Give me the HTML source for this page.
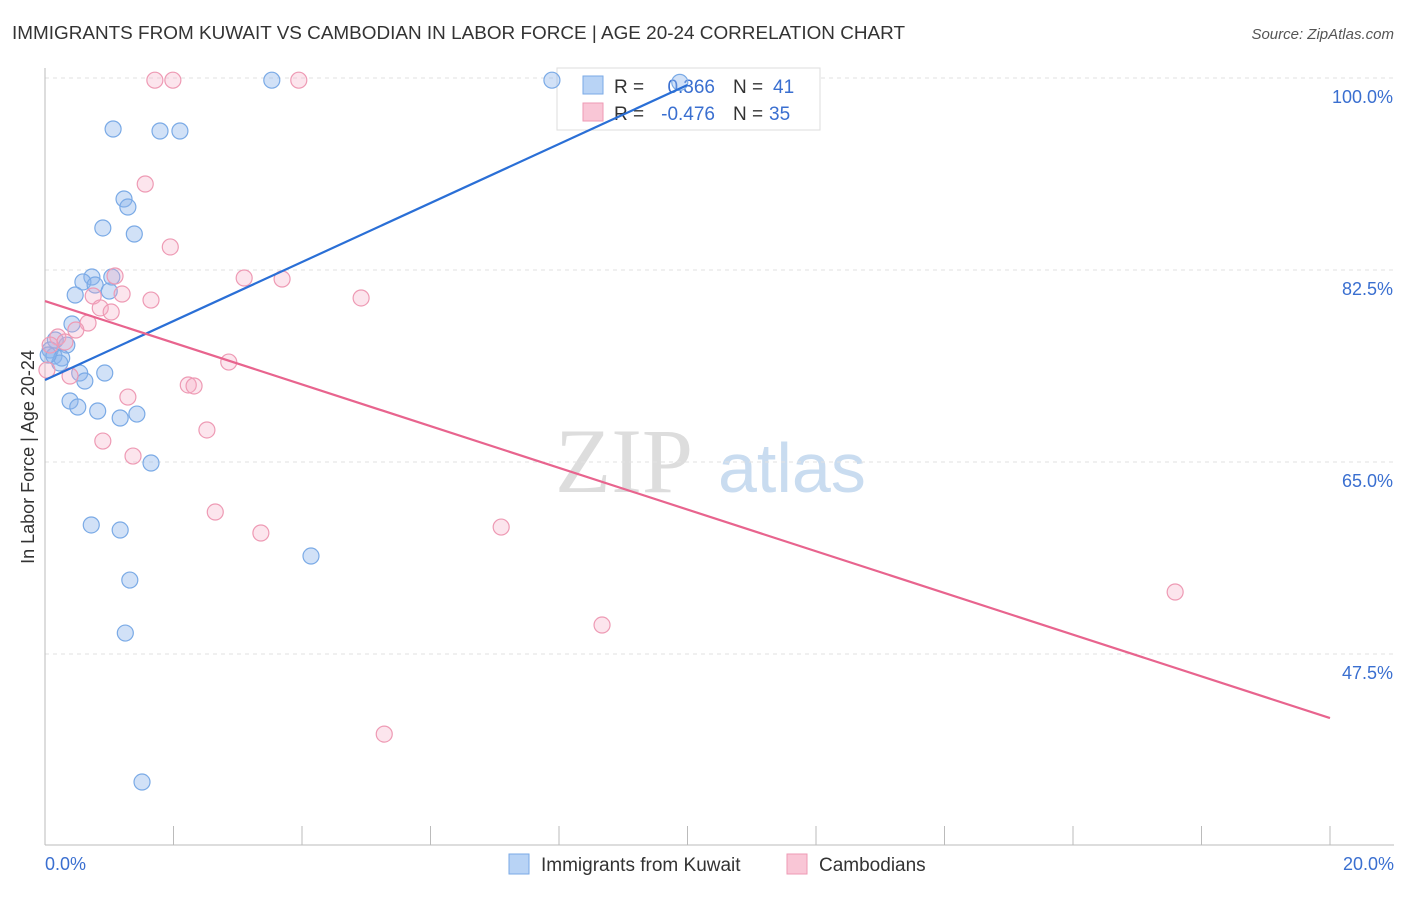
<!DOCTYPE html>
<html><head><meta charset="utf-8"><style>
body{margin:0;background:#fff;font-family:"Liberation Sans",sans-serif;}
</style></head><body>
<svg id="chart" width="1406" height="892" xmlns="http://www.w3.org/2000/svg" style="font-family:'Liberation Sans',sans-serif">
<text x="12" y="39" font-size="18" fill="#333" textLength="893" lengthAdjust="spacingAndGlyphs">IMMIGRANTS FROM KUWAIT VS CAMBODIAN IN LABOR FORCE | AGE 20-24 CORRELATION CHART</text>
<text x="1394" y="39" font-size="15" fill="#555" text-anchor="end" font-style="italic">Source: ZipAtlas.com</text>
<text x="555" y="492" font-size="92" fill="#ddd" font-family="Liberation Serif,serif">ZIP</text>
<text x="718" y="492" font-size="70" fill="#c9dcf0">atlas</text>
<text transform="translate(34,457) rotate(-90)" font-size="18" fill="#333" text-anchor="middle">In Labor Force | Age 20-24</text>
<g id="grid"></g>
<g>
<rect x="557" y="68" width="263" height="62" fill="#fff" stroke="#ddd"/>
<rect x="583" y="76" width="20" height="18" fill="#b8d3f5" stroke="#7aaae6"/>
<rect x="583" y="103" width="20" height="18" fill="#f9c6d6" stroke="#ee9ab4"/>
<text x="614" y="93" font-size="19" fill="#333">R =</text>
<text x="715" y="93" font-size="19" fill="#3a6fd0" text-anchor="end">0.366</text>
<text x="733" y="93" font-size="19" fill="#333">N =</text>
<text x="773" y="93" font-size="19" fill="#3a6fd0">41</text>
<text x="614" y="120" font-size="19" fill="#333">R =</text>
<text x="715" y="120" font-size="19" fill="#3a6fd0" text-anchor="end">-0.476</text>
<text x="733" y="120" font-size="19" fill="#333">N =</text>
<text x="769" y="120" font-size="19" fill="#3a6fd0">35</text>
</g>
<g id="marks"></g><g id="lines"></g>
<g>
<rect x="509" y="854" width="20" height="20" fill="#b8d3f5" stroke="#7aaae6"/>
<text x="541" y="871" font-size="19" fill="#333">Immigrants from Kuwait</text>
<rect x="787" y="854" width="20" height="20" fill="#f9c6d6" stroke="#ee9ab4"/>
<text x="819" y="871" font-size="19" fill="#333">Cambodians</text>
</g>
</svg>
<script>
const yTicks=[47.5,65.0,82.5,100.0];
const xTickLabels=["0.0%","20.0%"];
const blueX=[1.06,1.79,2.10,3.53,7.89,9.88,1.23,1.29,0.90,1.39,0.73,0.59,1.04,0.78,0.47,1.00,0.42,0.16,0.34,0.08,0.14,0.26,0.23,0.54,0.93,0.62,0.39,0.51,0.82,1.17,1.43,1.65,0.72,1.17,4.14,1.32,1.25,1.51,0.05];
const blueY=[95.35,95.17,95.17,99.8,99.8,99.6,88.97,88.24,86.33,85.78,81.86,81.41,81.86,81.13,80.22,80.58,77.58,76.12,75.66,75.21,74.66,74.48,74.02,73.11,73.11,72.38,70.56,70.01,69.65,69.01,69.37,64.91,59.26,58.80,56.43,54.24,49.41,35.83,74.75];
const pinkX=[1.71,1.99,3.95,1.56,1.95,3.10,3.69,1.09,0.75,1.20,1.65,4.92,0.86,1.03,0.67,0.48,0.20,0.31,0.08,2.86,0.39,2.23,2.32,1.29,2.52,0.90,1.37,2.65,3.36,7.10,17.59,8.67,5.28,0.03];
const pinkY=[99.8,99.8,99.8,90.34,84.6,81.77,81.68,81.95,80.13,80.31,79.76,79.95,79.04,78.67,77.67,77.03,76.39,75.94,75.66,74.11,72.84,72.02,71.93,70.92,67.92,66.91,65.54,60.44,58.53,59.07,53.15,50.14,40.2,73.38];
const blueTrend=[72.47,99.36]; // at x=0, x=10
const pinkTrend=[79.67,41.66]; // at x=0, x=20
const NS="http://www.w3.org/2000/svg";
const X=v=>45+v/20*1285, Y=v=>78+(100-v)/17.5*192;
function mk(t,a,p){const e=document.createElementNS(NS,t);for(const k in a)e.setAttribute(k,a[k]);p.appendChild(e);return e;}
const grid=document.getElementById('grid');
yTicks.forEach(t=>{
 const l=mk('line',{x1:45,x2:1394,y1:Y(t),y2:Y(t),stroke:'#e2e2e2','stroke-dasharray':'4,4'},grid);
 
 
 const tx=mk('text',{x:1393,y:Y(t)+25,'font-size':18,fill:'#3a6fd0','text-anchor':'end'},grid);
 tx.textContent=t.toFixed(1)+'%';
 
 
});
mk('line',{x1:45,x2:45,y1:68,y2:845,stroke:'#bbb'},grid);
mk('line',{x1:45,x2:1394,y1:845,y2:845,stroke:'#bbb'},grid);
for(let i=0;i<=10;i++){mk('line',{x1:X(i*2),x2:X(i*2),y1:826,y2:845,stroke:'#bbb'},grid);}
const xl0=mk('text',{x:45,y:870,'font-size':18,fill:'#3a6fd0'},grid);xl0.textContent=xTickLabels[0];


const xl1=mk('text',{x:1394,y:870,'font-size':18,fill:'#3a6fd0','text-anchor':'end'},grid);xl1.textContent=xTickLabels[1];


const marks=document.getElementById('marks');
blueX.forEach((x,i)=>{const c=mk('circle',{cx:X(x),cy:Y(blueY[i]),r:8,fill:'rgba(140,180,235,0.4)',stroke:'#7aaae6','stroke-width':1.2},marks);
 
 });
pinkX.forEach((x,i)=>{const c=mk('circle',{cx:X(x),cy:Y(pinkY[i]),r:8,fill:'rgba(245,170,195,0.3)',stroke:'#ee9ab4','stroke-width':1.2},marks);
 
 });
const lines=document.getElementById('lines');
const bl=mk('line',{x1:X(0),y1:Y(blueTrend[0]),x2:X(10),y2:Y(blueTrend[1]),stroke:'#2a6fd6','stroke-width':2.2},lines);


const pl=mk('line',{x1:X(0),y1:Y(pinkTrend[0]),x2:X(20),y2:Y(pinkTrend[1]),stroke:'#e8648e','stroke-width':2.2},lines);


</script>
</body></html>
